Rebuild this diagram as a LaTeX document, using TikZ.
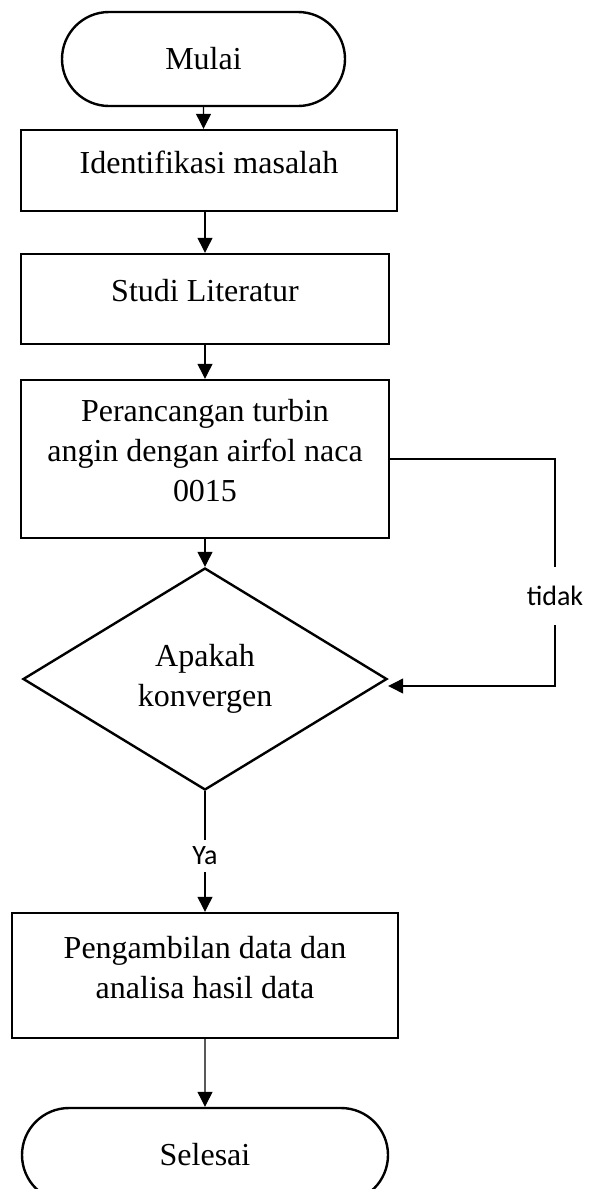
\documentclass[tikz,border=0pt]{standalone}
\usepackage{fontspec}
\setmainfont{Liberation Serif}
\newfontfamily\labelfont{Carlito}
\usetikzlibrary{shapes.geometric, shapes.misc, arrows.meta}

\begin{document}
\begin{tikzpicture}
  [x=0.5pt, y=-0.5pt,
   term/.style={shape=rounded rectangle, draw, line width=1.2pt, inner sep=0pt,
     minimum height=47pt, font=\fontsize{16}{20}\selectfont},
   proc/.style={shape=rectangle, draw, line width=1.2pt, inner sep=0pt, align=center,
     text depth=8.5pt, font=\fontsize{16}{20}\selectfont},
   cond/.style={shape=diamond, draw, line width=1.2pt, inner sep=0pt, align=center,
     minimum width=182pt, minimum height=111pt, font=\fontsize{16}{20}\selectfont},
   answer/.style={fill=white, inner sep=1pt, font=\labelfont\fontsize{14}{17}\selectfont},
   flow/.style={line width=0.6pt, -{Triangle[length=7.5pt, width=7.5pt]}}]
  % Setup constants
  \def\midx{205}
  \clip (0,0) rectangle (592,1189);
  % Start and end of the chart
  \node (mulai) at (203.5,59) [term, minimum width=141.5pt] {Mulai};
  \node (selesai) at (\midx,1155) [term, minimum width=183pt] {Selesai};
  % Process steps
  \node (identifikasi) at (209,170.5) [proc, minimum width=188pt, minimum height=40.5pt]
    {Identifikasi masalah};
  \node (studi) at (\midx,299) [proc, minimum width=184pt, minimum height=45pt]
    {Studi Literatur};
  \node (perancangan) at (\midx,459) [proc, minimum width=184pt, minimum height=79pt]
    {Perancangan turbin\\angin dengan airfol naca\\0015};
  \node (konvergen) at (\midx,679) [cond] {Apakah\\konvergen};
  \node (pengambilan) at (\midx,975.5) [proc, minimum width=193pt, minimum height=62.5pt]
    {Pengambilan data dan\\analisa hasil data};
  % Answers of the decision
  \node (tidak) at (555,596) [answer, minimum height=29pt] {tidak};
  \node (ya) at (\midx,856) [answer, minimum height=16pt] {Ya};

  % Draw the connectors
  \draw [flow] (mulai) -- (mulai |- identifikasi.north);
  \draw [flow] (studi |- identifikasi.south) -- (studi);
  \draw [flow] (studi) -- (perancangan);
  \draw [flow] (perancangan) -- (konvergen);
  \draw [line width=0.6pt] (perancangan.east) -| (tidak.north);
  \draw [flow] (tidak.south) |- ([yshift=-3.5pt]konvergen.east);
  \draw [line width=0.6pt] (konvergen.south) -- (ya.north);
  \draw [flow] (ya.south) -- (pengambilan.north);
  \draw [flow] (pengambilan) -- (selesai);
\end{tikzpicture}
\end{document}
